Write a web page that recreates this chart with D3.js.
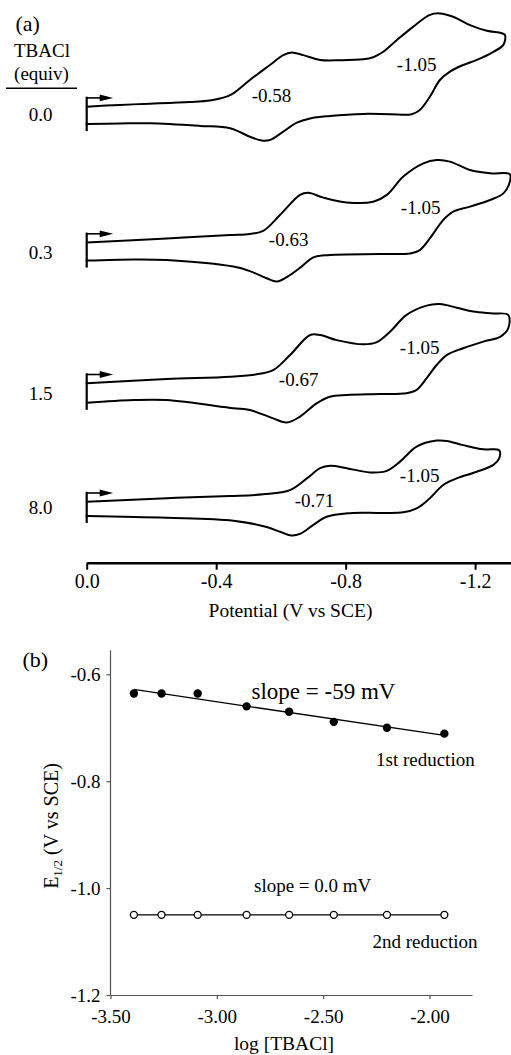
<!DOCTYPE html>
<html>
<head>
<meta charset="utf-8">
<script src="https://cdn.jsdelivr.net/npm/d3@7"></script>
<style>
  body { margin: 0; background: #fff; }
  svg { display: block; font-family: "Liberation Serif", "Times New Roman", serif; }
  svg text, svg tspan { font-family: "Liberation Serif", "Times New Roman", serif; fill: #000; }
</style>
</head>
<body>
<svg id="chart" width="511" height="1055"></svg>
<script>
// ---------- Data ----------
// TBACl added (equiv) for the four voltammograms
const equivalents = ["0.0", "0.3", "1.5", "8.0"];
// Half-wave potentials (V vs SCE) of the two reductions
const firstE12 = [-0.58, -0.63, -0.67, -0.71];
const secondE12 = [-1.05, -1.05, -1.05, -1.05];

// Cyclic voltammograms: potential (V vs SCE) and current (µA, cathodic up),
// forward sweep to the switching potential followed by the return sweep.
const cv0Potential = [0, -0.103, -0.196, -0.319, -0.381, -0.418, -0.449, -0.504, -0.566, -0.607, -0.633, -0.669, -0.721, -0.782, -0.854, -0.885, -0.916, -0.958, -1.009, -1.060, -1.091, -1.132, -1.184, -1.236, -1.282, -1.292,
  -1.287, -1.256, -1.205, -1.163, -1.122, -1.091, -1.060, -1.029, -1.004, -0.937, -0.854, -0.751, -0.690, -0.649, -0.607, -0.566, -0.541, -0.504, -0.443, -0.350, -0.196, -0.103, 0];
const cv0Current = [2.1, 2.7, 3.1, 3.7, 4.2, 5.0, 6.3, 11.0, 16.0, 19.3, 20.2, 19.3, 17.7, 17.6, 17.9, 18.6, 20.4, 24.3, 28.8, 32.7, 33.2, 32.1, 29.3, 27.4, 26.6, 26.0,
  22.7, 20.4, 17.7, 16.0, 13.8, 11.0, 5.4, 1.0, -0.4, -0.4, -0.3, -1.0, -1.8, -3.2, -6.2, -9.0, -9.2, -7.9, -5.1, -4.3, -3.4, -3.5, -3.7];

const cv1Potential = [0, -0.247, -0.443, -0.504, -0.545, -0.597, -0.659, -0.684, -0.731, -0.803, -0.885, -0.927, -0.978, -1.040, -1.081, -1.122, -1.184, -1.246, -1.307,
  -1.307, -1.287, -1.246, -1.184, -1.132, -1.101, -1.060, -1.029, -0.999, -0.906, -0.751, -0.700, -0.669, -0.628, -0.587, -0.556, -0.504, -0.453, -0.247, -0.144, 0];
const cv1Current = [2.8, 4.2, 5.3, 5.7, 6.7, 12.0, 18.7, 19.4, 17.8, 16.2, 16.4, 18.7, 24.8, 29.2, 30.3, 29.8, 27.0, 25.9, 25.6,
  23.1, 19.2, 17.0, 14.8, 13.1, 10.3, 4.2, 0.3, -0.8, -1.0, -1.3, -2.1, -4.7, -8.0, -10.2, -9.1, -6.7, -5.2, -3.0, -2.8, -3.2];

const cv2Potential = [0, -0.247, -0.443, -0.525, -0.576, -0.628, -0.690, -0.721, -0.772, -0.854, -0.896, -0.937, -0.988, -1.050, -1.091, -1.143, -1.194, -1.256, -1.302,
  -1.302, -1.277, -1.225, -1.163, -1.112, -1.081, -1.050, -1.019, -0.988, -0.906, -0.803, -0.751, -0.710, -0.659, -0.618, -0.576, -0.504, -0.453, -0.247, -0.144, 0];
const cv2Current = [2.9, 4.3, 5.1, 5.9, 7.3, 12.3, 19.0, 19.0, 17.3, 15.9, 16.6, 20.1, 25.7, 28.8, 29.3, 28.1, 26.8, 26.2, 25.7,
  21.2, 18.4, 16.8, 14.6, 12.3, 9.0, 4.6, 0.7, -0.4, -0.7, -1.0, -1.6, -3.8, -8.2, -10.2, -8.8, -6.0, -5.4, -2.7, -2.7, -3.6];

const cv3Potential = [0, -0.247, -0.443, -0.545, -0.628, -0.680, -0.721, -0.752, -0.803, -0.875, -0.927, -0.968, -1.019, -1.081, -1.112, -1.163, -1.225, -1.274,
  -1.274, -1.256, -1.205, -1.143, -1.101, -1.060, -1.019, -0.978, -0.906, -0.813, -0.741, -0.700, -0.659, -0.631, -0.597, -0.556, -0.453, -0.247, 0];
const cv3Current = [1.4, 2.6, 3.3, 3.9, 5.3, 9.2, 12.6, 13.4, 12.6, 11.2, 11.7, 14.8, 19.8, 21.8, 21.7, 20.3, 18.9, 18.6,
  15.9, 13.7, 11.4, 9.2, 7.0, 2.6, -0.8, -2.1, -2.3, -2.4, -3.6, -6.3, -9.3, -9.8, -8.6, -7.0, -4.9, -3.9, -3.3];

const cvPotentials = [cv0Potential, cv1Potential, cv2Potential, cv3Potential];
const cvCurrents = [cv0Current, cv1Current, cv2Current, cv3Current];
const potentialTicks = [0, -0.4, -0.8, -1.2];

// E1/2 against log[TBACl]
const logTBACl = [-3.39, -3.26, -3.09, -2.86, -2.66, -2.45, -2.20, -1.93];
const firstReduction = [-0.636, -0.636, -0.636, -0.660, -0.670, -0.689, -0.700, -0.711];
const secondReduction = [-1.05, -1.05, -1.05, -1.05, -1.05, -1.05, -1.05, -1.05];
const firstSlope = -59;   // mV per decade
const secondSlope = 0.0;  // mV per decade
const logTicks = [-3.5, -3.0, -2.5, -2.0];
const e12Ticks = [-0.6, -0.8, -1.0, -1.2];

// ---------- Layout ----------
const serif = '"Liberation Serif", "Times New Roman", serif';
const svg = d3.select("#chart").style("font-family", serif);
const rowY = [113, 251, 392, 506];           // zero-current level of each voltammogram
const firstLabelDx = [-3, -2, -5, -2], firstLabelDy = [-11, -5, -6, 1];
const secondLabelDx = [-10, -6, -7, -7], secondLabelDy = [-42, -37, -38, -24];

function label(x, y, size, str, anchor) {
  return svg.append("text").attr("x", x).attr("y", y)
    .style("font-family", serif).style("font-size", size + "px")
    .attr("text-anchor", anchor || "start").text(str);
}

// ---------- Panel (a): cyclic voltammograms ----------
const xA = d3.scaleLinear().domain([0, -1.2]).range([86.7, 475.2]);
const axisAY = 562.7;

label(15.5, 31, 22, "(a)");
label(42, 57, 19, "TBACl", "middle");
label(41.5, 79.5, 19, "(equiv)", "middle");
svg.append("line").attr("x1", 6).attr("x2", 77).attr("y1", 88.3).attr("y2", 88.3)
  .attr("stroke", "#000").attr("stroke-width", 1.5);

const cvLine = d3.line().curve(d3.curveCatmullRom.alpha(0.5));

equivalents.forEach((eq, i) => {
  const yA = d3.scaleLinear().domain([-1, 1]).range([rowY[i] + 3, rowY[i] - 3]);
  const E = cvPotentials[i], I = cvCurrents[i];
  const pts = E.map((e, k) => [xA(e), yA(I[k])]);
  const g = svg.append("g");

  g.append("path").attr("d", cvLine(pts))
    .attr("fill", "none").attr("stroke", "#000").attr("stroke-width", 2)
    .attr("stroke-linejoin", "round").attr("stroke-linecap", "round");

  // start marker and sweep direction arrow at 0 V
  const top = yA(I[0]) - 10, bottom = yA(I[I.length - 1]) + 7;
  const x0 = xA(0);
  g.append("line").attr("x1", x0).attr("x2", x0).attr("y1", top).attr("y2", bottom)
    .attr("stroke", "#000").attr("stroke-width", 2.2);
  const ay = top + 1.2;
  g.append("line").attr("x1", x0).attr("x2", x0 + 16).attr("y1", ay).attr("y2", ay)
    .attr("stroke", "#000").attr("stroke-width", 1.6);
  g.append("path").attr("d", `M${x0 + 13},${ay - 3.4} L${x0 + 26.5},${ay} L${x0 + 13},${ay + 3.4} Z`)
    .attr("fill", "#000");

  label(40.5, rowY[i] + 7.5, 19, eq, "middle");
  label(xA(firstE12[i]) + firstLabelDx[i], rowY[i] + firstLabelDy[i], 19, firstE12[i].toFixed(2), "middle");
  label(xA(secondE12[i]) + secondLabelDx[i], rowY[i] + secondLabelDy[i], 19, secondE12[i].toFixed(2), "middle");
});

const xAxisA = d3.axisBottom(d3.scaleLinear().domain([0, -1.314]).range([86.7, 512]))
  .tickValues(potentialTicks).tickSize(7).tickSizeOuter(0).tickPadding(4)
  .tickFormat(d => d.toFixed(1));
const gxA = svg.append("g").attr("transform", `translate(0,${axisAY})`).call(xAxisA)
  .attr("font-family", null).attr("font-size", null);
gxA.select(".domain").attr("stroke", "#000").attr("stroke-width", 2.6);
gxA.selectAll(".tick line").attr("stroke", "#000").attr("stroke-width", 2);
gxA.selectAll(".tick text").style("font-family", serif).style("font-size", "20px").attr("fill", "#000");
label(290.5, 616.5, 19.5, "Potential (V vs SCE)", "middle");

// ---------- Panel (b): E1/2 vs log[TBACl] ----------
const xB = d3.scaleLinear().domain([-3.5, -1.8]).range([110.5, 472]);
const yB = d3.scaleLinear().domain([-1.2, -0.6]).range([995, 674.3]);
const axisColor = "#555";

label(22.5, 667, 22, "(b)");

const gyB = svg.append("g").attr("transform", `translate(${xB(-3.5)},0)`)
  .call(d3.axisLeft(yB).tickValues(e12Ticks).tickSize(4).tickSizeOuter(0).tickPadding(6)
    .tickFormat(d => d.toFixed(1)));
gyB.select(".domain").attr("d", `M0,${yB(-0.555)}V${yB(-1.2)}`);
const gxB = svg.append("g").attr("transform", `translate(0,${yB(-1.2)})`)
  .call(d3.axisBottom(xB).tickValues(logTicks).tickSize(4).tickSizeOuter(0).tickPadding(11)
    .tickFormat(d => d.toFixed(2)));
[gyB, gxB].forEach(g => {
  g.attr("font-family", null).attr("font-size", null);
  g.select(".domain").attr("stroke", axisColor).attr("stroke-width", 1.2);
  g.selectAll(".tick line").attr("stroke", axisColor).attr("stroke-width", 1.2);
  g.selectAll(".tick text").style("font-family", serif).style("font-size", "19px").attr("fill", "#000");
});

label(284, 1050, 19.5, "log [TBACl]", "middle");

const yLabel = svg.append("text").attr("transform", "translate(58,826) rotate(-90)")
  .style("font-family", serif).style("font-size", "20px").attr("text-anchor", "middle");
yLabel.append("tspan").text("E");
yLabel.append("tspan").style("font-size", "13px").attr("dy", 4).text("1/2");
yLabel.append("tspan").attr("dy", -4).text(" (V vs SCE)");

// least-squares intercept for a line of given slope (V per decade)
function fitLine(xs, ys, slopeV) {
  const b = d3.mean(ys) - slopeV * d3.mean(xs);
  return x => b + slopeV * x;
}
const series = [
  { y: firstReduction, slope: firstSlope, filled: true },
  { y: secondReduction, slope: secondSlope, filled: false }
];
series.forEach(s => {
  const f = fitLine(logTBACl, s.y, s.slope / 1000);
  const xa = logTBACl[0], xb = logTBACl[logTBACl.length - 1];
  svg.append("line").attr("x1", xB(xa)).attr("y1", yB(f(xa))).attr("x2", xB(xb)).attr("y2", yB(f(xb)))
    .attr("stroke", "#000").attr("stroke-width", 1.3);
  svg.append("g").selectAll("circle").data(logTBACl).join("circle")
    .attr("cx", d => xB(d)).attr("cy", (d, k) => yB(s.y[k]))
    .attr("r", s.filled ? 4.2 : 3.5)
    .attr("fill", s.filled ? "#000" : "#fff")
    .attr("stroke", "#000").attr("stroke-width", s.filled ? 0 : 1.3);
});

label(251.5, 699, 23, `slope = ${firstSlope} mV`);
label(376, 766, 19, "1st reduction");
label(254, 891.5, 19, `slope = ${secondSlope.toFixed(1)} mV`);
label(372.5, 948, 19, "2nd reduction");
</script>
</body>
</html>
